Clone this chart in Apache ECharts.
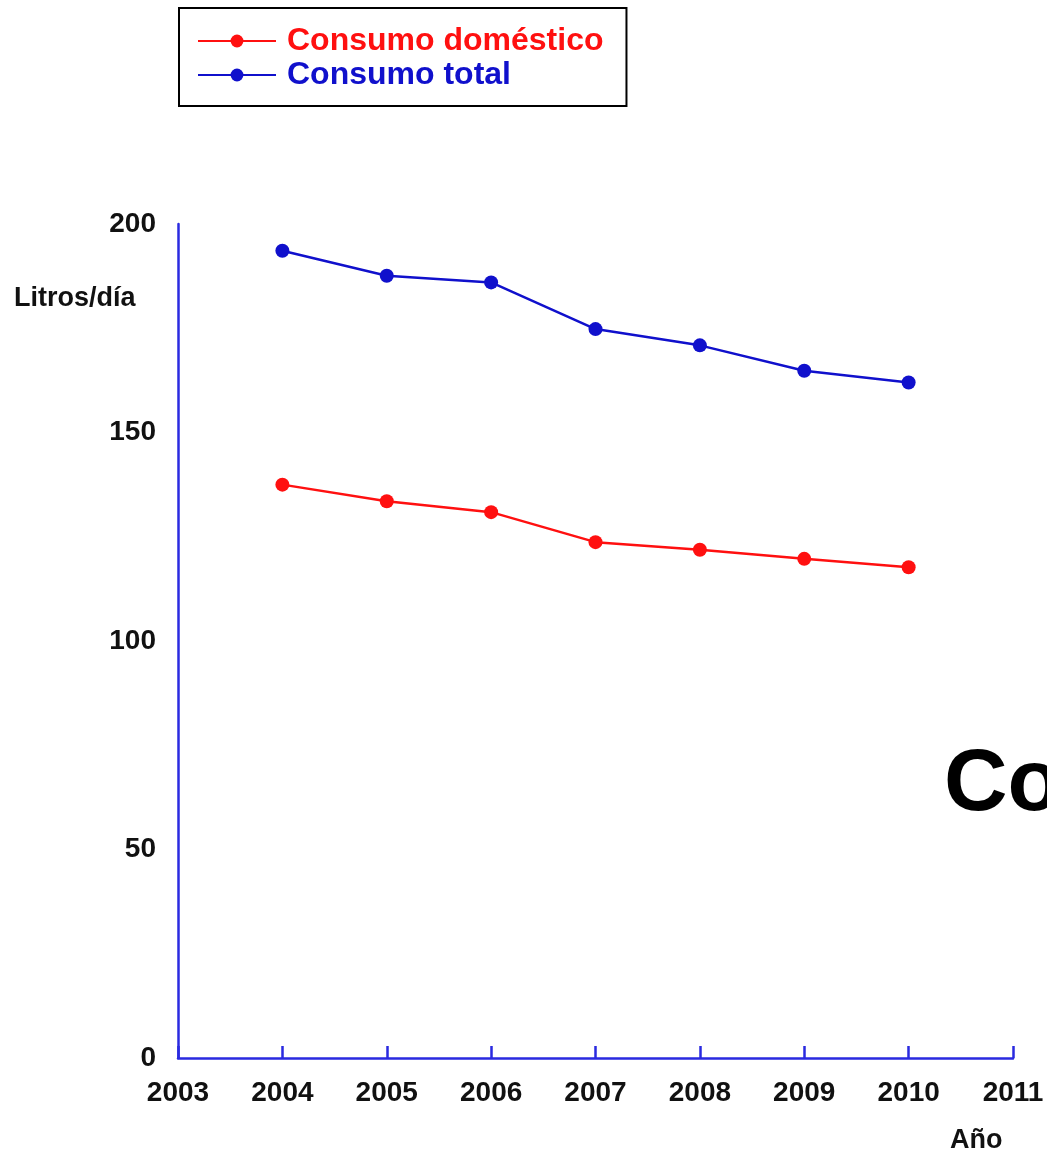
<!DOCTYPE html>
<html>
<head>
<meta charset="utf-8">
<script src="https://cdn.jsdelivr.net/npm/echarts@6/dist/echarts.min.js"></script>
<style>
html,body{margin:0;padding:0;background:#fff;}
#chart{width:1047px;height:1156px;}
</style>
</head>
<body>
<div id="chart"></div>
<script>
const years = [2004, 2005, 2006, 2007, 2008, 2009, 2010];
const consumoDomestico = [137.5, 133.5, 130.9, 123.7, 121.9, 119.7, 117.7];
const consumoTotal = [193.6, 187.6, 186.0, 174.8, 170.9, 164.8, 162.0];
const seriesNames = ['Consumo doméstico', 'Consumo total'];
const xMin = 2003, xMax = 2011, xStep = 1;
const yMin = 0, yMax = 200, yStep = 50;

const FONT = '"Liberation Sans", Arial, sans-serif';
const RED = '#ff1010';
const BLUE = '#1010cc';
const AXIS = '#2a2ae0';

const chart = echarts.init(document.getElementById('chart'));
chart.setOption({
  backgroundColor: '#ffffff',
  animation: false,
  grid: { left: 178, right: 34, top: 224, bottom: 98, containLabel: false },
  legend: {
    orient: 'vertical',
    left: 179, top: 8,
    padding: [16, 23, 14, 18],
    borderColor: '#000', borderWidth: 2,
    itemGap: 0,
    itemWidth: 78, itemHeight: 16,
    data: [
      { name: seriesNames[0], textStyle: { color: RED } },
      { name: seriesNames[1], textStyle: { color: BLUE } }
    ],
    textStyle: { fontFamily: FONT, fontWeight: 'bold', fontSize: 32, lineHeight: 34, padding: [0, 0, 0, 6] }
  },
  xAxis: {
    type: 'value', min: xMin, max: xMax, interval: xStep,
    axisLine: { show: true, onZero: false, lineStyle: { color: AXIS, width: 2.5 } },
    axisTick: { show: true, inside: true, length: 12, lineStyle: { color: AXIS, width: 2.5 } },
    splitLine: { show: false },
    axisLabel: { margin: 21, color: '#111', fontFamily: FONT, fontWeight: 'bold', fontSize: 28, formatter: v => String(v) }
  },
  yAxis: {
    type: 'value', min: yMin, max: yMax, interval: yStep,
    axisLine: { show: true, lineStyle: { color: AXIS, width: 2.5 } },
    axisTick: { show: false },
    splitLine: { show: false },
    axisLabel: { margin: 22, color: '#111', fontFamily: FONT, fontWeight: 'bold', fontSize: 28 }
  },
  series: [
    {
      name: seriesNames[0], type: 'line',
      data: years.map((y, i) => [y, consumoDomestico[i]]),
      symbol: 'circle', symbolSize: 14,
      lineStyle: { color: RED, width: 2.5 }, itemStyle: { color: RED }
    },
    {
      name: seriesNames[1], type: 'line',
      data: years.map((y, i) => [y, consumoTotal[i]]),
      symbol: 'circle', symbolSize: 14,
      lineStyle: { color: BLUE, width: 2.5 }, itemStyle: { color: BLUE }
    }
  ],
  graphic: [
    { type: 'text', left: 14, top: 285, style: { text: 'Litros/día', fill: '#111', font: 'bold 27px ' + FONT } },
    { type: 'text', left: 950, top: 1127, style: { text: 'Año', fill: '#111', font: 'bold 27px ' + FONT } },
    { type: 'text', x: 944, y: 786, style: { text: 'Consumo', fill: '#000', font: 'bold 88px ' + FONT, verticalAlign: 'middle' } }
  ]
});
</script>
</body>
</html>
